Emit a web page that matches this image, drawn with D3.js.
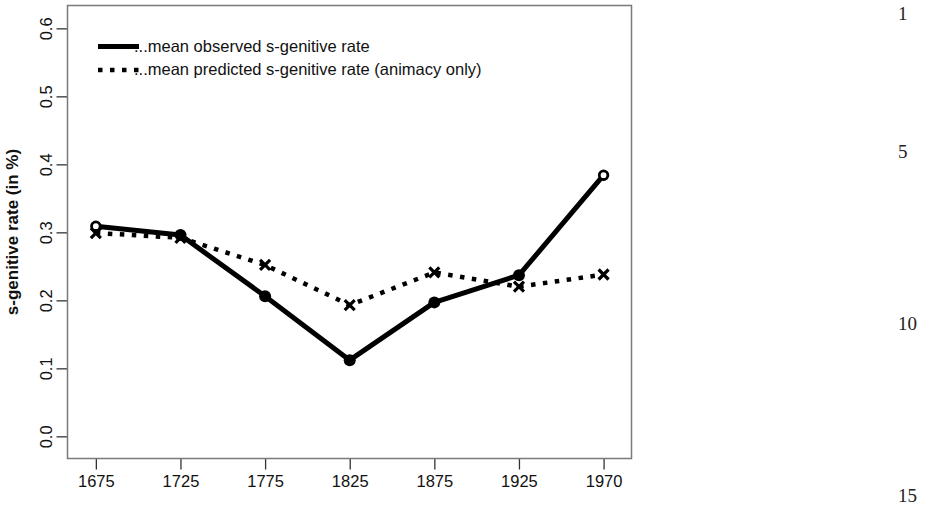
<!DOCTYPE html>
<html>
<head>
<meta charset="utf-8">
<script src="https://cdn.jsdelivr.net/npm/d3@7"></script>
<style>
  body { margin: 0; background: #fff; }
  svg { display: block; }
  text { font-family: "Liberation Sans", Arial, Helvetica, sans-serif; }
</style>
</head>
<body>
<div id="chart"></div>
<script>

// data
let periods = ["1675", "1725", "1775", "1825", "1875", "1925", "1970"];
let observed = [0.309, 0.296, 0.206, 0.112, 0.197, 0.237, 0.384];
let predicted = [0.299, 0.292, 0.252, 0.193, 0.241, 0.220, 0.238];
let yTicks = [0, 0.1, 0.2, 0.3, 0.4, 0.5, 0.6];
let legendLabels = ["...mean observed s-genitive rate", "...mean predicted s-genitive rate (animacy only)"];
let lineNumbers = [1, 5, 10, 15];

function chart(width, height, selector) {

  let margin = { top: 5.5, left: 67.5, right: 296.5, bottom: 48.5 };
  let chartWidth = width - margin.left - margin.right;
  let chartHeight = height - margin.top - margin.bottom;

  let svg = d3.select(selector)
    .append("svg")
    .attr("width", width)
    .attr("height", height);

  let x = d3.scaleLinear()
    .domain([0.665, 7.33])
    .range([margin.left, margin.left + chartWidth]);

  let y = d3.scaleLinear()
    .domain([-0.0326, 0.6336])
    .range([margin.top + chartHeight, margin.top]);

  let obs = observed.map((v, i) => ({ i: i + 1, v: v }));
  let pred = predicted.map((v, i) => ({ i: i + 1, v: v }));

  //// axes ////
  let xAxis = d3.axisBottom(x)
    .tickValues(periods.map((p, i) => i + 1))
    .tickFormat((d) => periods[d - 1])
    .tickSize(11)
    .tickPadding(6);

  let gx = svg.append("g")
    .attr("transform", "translate(0," + (margin.top + chartHeight) + ")")
    .call(xAxis);
  gx.select(".domain").remove();
  gx.selectAll("line").attr("stroke", "#333").attr("stroke-width", 1.3);
  gx.selectAll("text")
    .attr("fill", "#111")
    .style("font-size", "16.5px");

  let yAxis = d3.axisLeft(y)
    .tickValues(yTicks)
    .tickFormat(d3.format(".1f"))
    .tickSize(11);

  let gy = svg.append("g")
    .attr("transform", "translate(" + margin.left + ",0)")
    .call(yAxis);
  gy.select(".domain").remove();
  gy.selectAll("line").attr("stroke", "#333").attr("stroke-width", 1.3);
  gy.selectAll("text")
    .attr("fill", "#111")
    .attr("x", 0)
    .attr("dy", null)
    .attr("transform", "translate(-16,0) rotate(-90)")
    .attr("text-anchor", "middle")
    .style("font-size", "16.5px");

  // plot frame
  svg.append("rect")
    .attr("x", margin.left)
    .attr("y", margin.top)
    .attr("width", chartWidth)
    .attr("height", chartHeight)
    .attr("fill", "none")
    .attr("stroke", "#7a7a7a")
    .attr("stroke-width", 1.5);

  // y axis title
  svg.append("text")
    .attr("transform", "translate(18," + (margin.top + chartHeight / 2) + ") rotate(-90)")
    .attr("text-anchor", "middle")
    .style("font-size", "17px")
    .style("font-weight", "bold")
    .attr("fill", "#111")
    .text("s-genitive rate (in %)");

  //// lines ////
  let line = d3.line()
    .x((d) => x(d.i))
    .y((d) => y(d.v));

  svg.append("path")
    .datum(pred)
    .attr("d", line)
    .attr("fill", "none")
    .attr("stroke", "#000")
    .attr("stroke-width", 4.5)
    .attr("stroke-dasharray", "4.5,7.5");

  svg.append("path")
    .datum(obs)
    .attr("d", line)
    .attr("fill", "none")
    .attr("stroke", "#000")
    .attr("stroke-width", 5)
    .attr("stroke-linejoin", "round");

  // x marks for predicted
  let s = 5;
  svg.selectAll(".xmark")
    .data(pred)
    .join("path")
    .attr("class", "xmark")
    .attr("d", (d) => {
      let cx = x(d.i), cy = y(d.v);
      return "M" + (cx - s) + "," + (cy - s) + "L" + (cx + s) + "," + (cy + s) +
             "M" + (cx - s) + "," + (cy + s) + "L" + (cx + s) + "," + (cy - s);
    })
    .attr("stroke", "#000")
    .attr("stroke-width", 3.2)
    .attr("fill", "none");

  // circles for observed (first and last open)
  let last = obs.length;
  svg.selectAll(".obs-point")
    .data(obs)
    .join("circle")
    .attr("class", "obs-point")
    .attr("cx", (d) => x(d.i))
    .attr("cy", (d) => y(d.v))
    .attr("r", (d) => (d.i === 1 || d.i === last) ? 4.3 : 6)
    .attr("fill", (d) => (d.i === 1 || d.i === last) ? "#fff" : "#000")
    .attr("stroke", "#000")
    .attr("stroke-width", (d) => (d.i === 1 || d.i === last) ? 2.8 : 0);

  //// legend ////
  let legendY = d3.scaleLinear().domain([0, 1]).range([46.5, 70]);

  svg.append("line")
    .attr("x1", 98).attr("x2", 139)
    .attr("y1", legendY(0)).attr("y2", legendY(0))
    .attr("stroke", "#000")
    .attr("stroke-width", 5);

  svg.append("line")
    .attr("x1", 98).attr("x2", 141)
    .attr("y1", legendY(1)).attr("y2", legendY(1))
    .attr("stroke", "#000")
    .attr("stroke-width", 4.5)
    .attr("stroke-dasharray", "4.5,7.5");

  svg.selectAll(".legend-text")
    .data(legendLabels)
    .join("text")
    .attr("class", "legend-text")
    .attr("x", 134)
    .attr("y", (d, i) => legendY(i) + 5)
    .style("font-size", "16.5px")
    .attr("fill", "#111")
    .text((d) => d);

  //// manuscript line numbers ////
  let lineY = d3.scaleLinear().domain([1, 15]).range([20, 502]);

  svg.selectAll(".line-number")
    .data(lineNumbers)
    .join("text")
    .attr("class", "line-number")
    .attr("x", 898)
    .attr("y", (d) => lineY(d))
    .style("font-family", "'Liberation Serif', 'DejaVu Serif', serif")
    .style("font-size", "19px")
    .attr("fill", "#222")
    .text((d) => d);
}

chart(928, 507, "#chart");
</script>
</body>
</html>
